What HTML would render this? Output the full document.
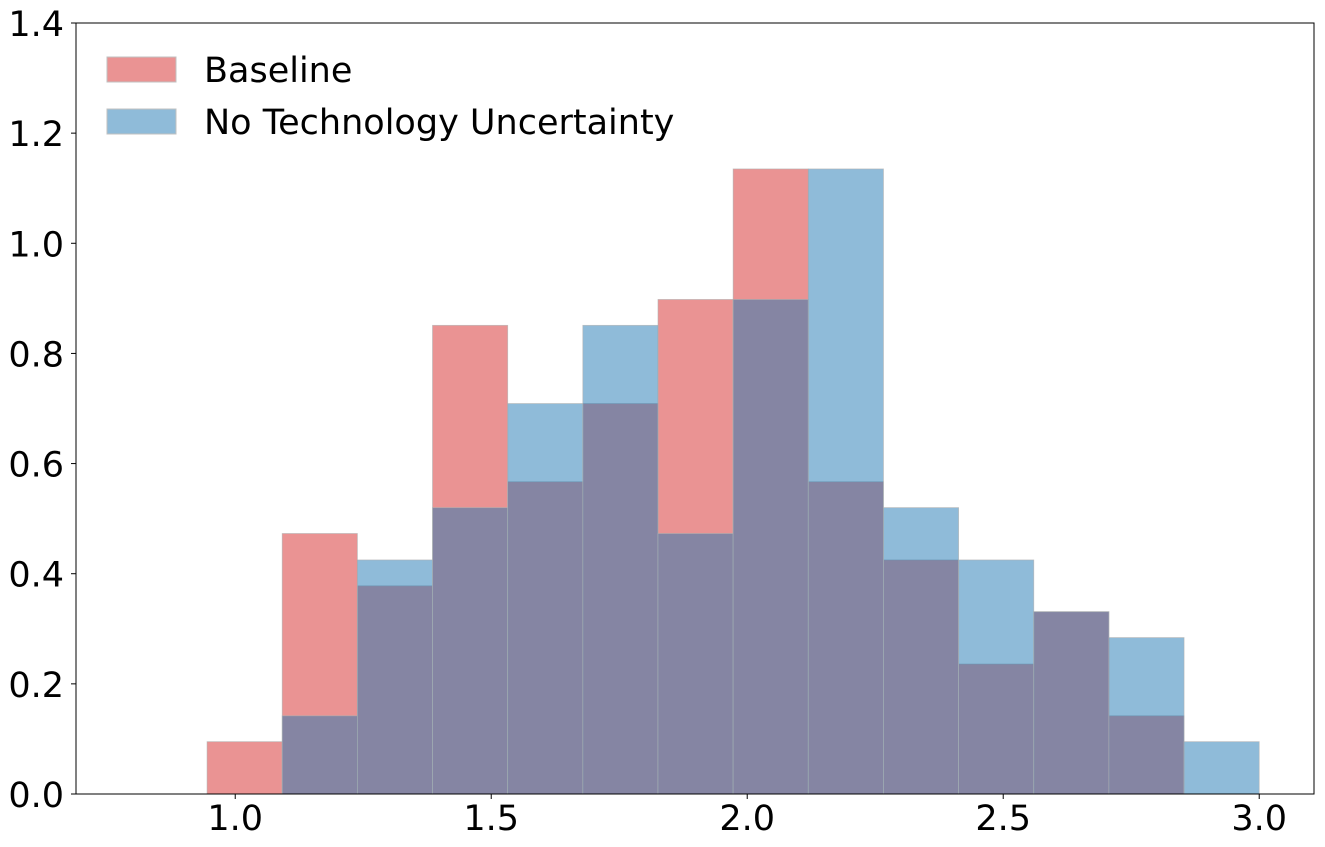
<!DOCTYPE html>
<html><head><meta charset="utf-8"><style>
html,body{margin:0;padding:0;background:#fff;}
svg{display:block;font-family:"DejaVu Sans","Liberation Sans",sans-serif;}
</style></head><body>
<svg id="chart" width="1325" height="847" xmlns="http://www.w3.org/2000/svg"></svg>
<script>
const binStart = 0.945;
const binEnd = 3.0;
const baselineValues = [0.095,0.473,0.378,0.851,0.567,0.709,0.898,1.135,0.567,0.425,0.236,0.331,0.142,0];
const noTechValues = [0,0.142,0.425,0.520,0.709,0.851,0.473,0.898,1.135,0.520,0.425,0.331,0.284,0.095];
const xTicks = [1.0,1.5,2.0,2.5,3.0];
const xTickLabels = ["1.0","1.5","2.0","2.5","3.0"];
const yTicks = [0,0.2,0.4,0.6,0.8,1.0,1.2,1.4];
const yTickLabels = ["0.0","0.2","0.4","0.6","0.8","1.0","1.2","1.4"];

const L=76,R=1314,T=23,B=794;
const xMin=0.689,xMax=3.107,yMin=0,yMax=1.4;
const sx=v=>L+(v-xMin)/(xMax-xMin)*(R-L);
const sy=v=>B-(v-yMin)/(yMax-yMin)*(B-T);
const svg=document.getElementById('chart');
const NS="http://www.w3.org/2000/svg";
function mk(tag,attrs){const e=document.createElementNS(NS,tag);for(const k in attrs)e.setAttribute(k,attrs[k]);svg.appendChild(e);return e;}

const n=baselineValues.length;
const w=(binEnd-binStart)/n;
function drawSeries(vals,color,name){
  vals.forEach((v,i)=>{
    if(v<=0)return;
    const x0=sx(binStart+i*w),x1=sx(binStart+(i+1)*w);
    const r=mk('rect',{x:x0,y:sy(v),width:x1-x0,height:sy(0)-sy(v),fill:color,'fill-opacity':0.5,stroke:'#b0b0b0','stroke-width':0.8,'stroke-opacity':0.7});
    
    
  });
}
drawSeries(baselineValues,'rgb(214,39,40)','baseline');
drawSeries(noTechValues,'rgb(31,119,180)','no-tech');

const frame=mk('rect',{x:L,y:T,width:R-L,height:B-T,fill:'none',stroke:'#000','stroke-width':1});



xTicks.forEach((v,i)=>{
  const x=sx(v);
  const t=mk('line',{x1:x,x2:x,y1:B,y2:B+5,stroke:'#000','stroke-width':1});
  
  
  const lb=mk('text',{x:x,y:B+36,'text-anchor':'middle','font-size':35,fill:'#000'});
  lb.textContent=xTickLabels[i];
  
  
});
yTicks.forEach((v,i)=>{
  const y=sy(v);
  const t=mk('line',{x1:L-5,x2:L,y1:y,y2:y,stroke:'#000','stroke-width':1});
  
  
  const lb=mk('text',{x:L-12,y:y+13,'text-anchor':'end','font-size':35,fill:'#000'});
  lb.textContent=yTickLabels[i];
  
  
});

const legend=[["Baseline",'rgb(214,39,40)',57],["No Technology Uncertainty",'rgb(31,119,180)',109]];
legend.forEach(([label,color,y])=>{
  const p=mk('rect',{x:107,y:y,width:69,height:25,fill:color,'fill-opacity':0.5,stroke:'#c0c0c0','stroke-width':1});
  
  
  const t=mk('text',{x:204,y:y+25,'font-size':35,fill:'#000'});
  t.textContent=label;
  
  
});
</script>
</body></html>
